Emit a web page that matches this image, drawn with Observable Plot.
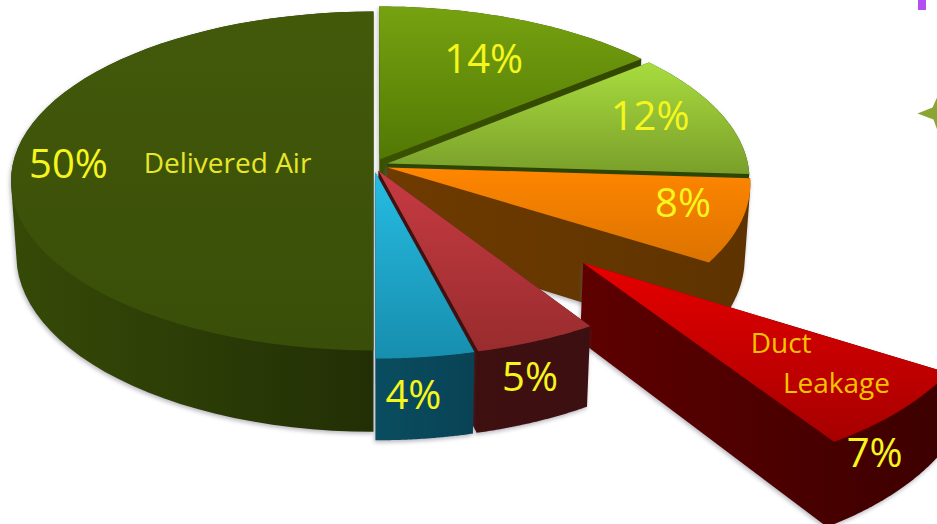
<!DOCTYPE html>
<html>
<head>
<meta charset="utf-8">
<script src="https://cdn.jsdelivr.net/npm/d3@7"></script>
<script src="https://cdn.jsdelivr.net/npm/@observablehq/plot@0.6"></script>
<style>
  html, body { margin: 0; padding: 0; background: #fff; overflow: hidden; }
  .wall { filter: drop-shadow(-1px 2px 2px rgba(90, 90, 110, .45)); }
</style>
</head>
<body>
<div id="chart"></div>
<script>
// Share of supply air per destination, clockwise from twelve o'clock.
const shares = [14, 12, 8, 7, 5, 4, 50];
const sliceIds = ["a", "b", "c", "d", "e", "f", "g"];
const pull = [0.04, 0.04, 0.04, 0.78, 0.034, 0.04, 0];
const reach = [1, 1, 1, 1.04, 1.005, 1, 1];
const topStart = ["#76a210", "#a8dc3e", "#ff8600", "#e60000", "#c63b42", "#26bce2", "#43590a"];
const topEnd = ["#527804", "#7a9f2a", "#dc7300", "#a60000", "#992c2e", "#178eae", "#394e08"];
const wallStart = ["#3a5200", "#2c4604", "#6e3b00", "#5e0000", "#421010", "#0a4d60", "#364a07"];
const wallEnd = ["#324600", "#2c4604", "#5e3300", "#3c0000", "#3c0f10", "#094255", "#222f05"];

// Painting order: the far half first, the pulled-out slice before its neighbours in front.
const paintOrder = [6, 0, 1, 2, 3, 4, 5];

const percentLabels = ["14%", "12%", "8%", "7%", "5%", "4%", "50%"];
const percentPlacement = [
  [0, 26, 0.70, 0], [1, 69.4, 0.8, 0], [2, 105, 0.83, 0],
  [3, 137.5, 0.97, 0.5], [4, 157.5, 1, 0.44], [5, 174.5, 1, 0.47], [6, 270, 0.845, 0]
];
const nameLabels = ["Delivered Air", "Duct", "Leakage"];
const namePlacement = [[6, 271.6, 0.405, 0], [3, 131.2, 0.61, 0], [3, 135.8, 0.82, 0]];
const nameColors = ["#e6e62a", "#f5c400", "#f5c400"];

// Perspective view of the disc: p tilts the far side away from the viewer.
const cx = 373, cy = 165, R = 361, H = 168, p = 0.0915, depth = 74, taper = 0.985;
const rad = (deg) => (deg * Math.PI) / 180;

const ends = d3.cumsum(shares).map((s) => (s * 360) / d3.sum(shares));
const spans = shares.map((_, i) => [i ? ends[i - 1] : 0, ends[i]]);

function project(i, angle, r, drop = 0) {
  const mid = rad((spans[i][0] + spans[i][1]) / 2);
  const u = reach[i] * r * Math.sin(rad(angle)) + pull[i] * Math.sin(mid);
  const v = reach[i] * r * Math.cos(rad(angle)) + pull[i] * Math.cos(mid);
  const w = 1 + p * v;
  const scale = 1 - (1 - taper) * drop;
  return {
    x: cx + (scale * R * u) / w,
    y: cy - (H * v) / w + (drop * depth) / w
  };
}

function arc(i, drop) {
  const [a, b] = spans[i];
  return d3.range(0, 61).map((k) => project(i, a + ((b - a) * k) / 60, 1, drop));
}

const topFace = (i) => [project(i, 0, 0), ...arc(i, 0)];

// Each slice is a convex prism, so its silhouette is the hull of both faces.
function prism(i) {
  const corners = [...topFace(i), project(i, 0, 0, 1), ...arc(i, 1)];
  const hull = d3.polygonHull(corners.map((c) => [c.x, c.y]));
  return hull.map(([x, y]) => ({x, y}));
}

const pointOf = ([i, angle, r, drop]) => project(i, angle, r, drop);
const percentRows = percentLabels.map((text, k) => ({text, ...pointOf(percentPlacement[k])}));
const nameRows = nameLabels.map((text, k) => ({text, color: nameColors[k], ...pointOf(namePlacement[k])}));

function gradients() {
  const defs = d3.create("svg:defs");
  const add = (id, a, b, horizontal) => {
    const g = defs.append("linearGradient").attr("id", id)
      .attr("x1", 0).attr("y1", 0).attr("x2", horizontal ? 1 : 0).attr("y2", horizontal ? 0 : 1);
    g.append("stop").attr("offset", 0).attr("stop-color", a);
    g.append("stop").attr("offset", 1).attr("stop-color", b);
  };
  sliceIds.forEach((id, i) => {
    add(`top-${id}`, topStart[i], topEnd[i], false);
    add(`wall-${id}`, wallStart[i], wallEnd[i], true);
  });
  return defs.node();
}

const faceOpts = {x: "x", y: "y", stroke: "none", curve: "linear"};
const sliceMarks = paintOrder.flatMap((i) => [
  Plot.line(prism(i), {...faceOpts, fill: `url(#wall-${sliceIds[i]})`, className: "wall"}),
  Plot.line(topFace(i), {...faceOpts, fill: `url(#top-${sliceIds[i]})`})
]);

// Slide furniture cut off by the right edge.
const star = [[917, 113], [932, 107], [937, 96], [937, 130], [933, 119], [917, 113]].map(([x, y]) => ({x, y}));

const font = "'Open Sans', 'Noto Sans', sans-serif";
const chart = Plot.plot({
  width: 937,
  height: 524,
  margin: 0,
  style: {background: "#fff"},
  x: {domain: [0, 937], range: [0, 937], axis: null},
  y: {domain: [0, 524], range: [0, 524], axis: null},
  marks: [
    gradients,
    Plot.rect([{}], {x1: () => 918, x2: () => 926, y1: () => 0, y2: () => 10, fill: "#b34ff0"}),
    Plot.line(star, {...faceOpts, fill: "#8aa632"}),
    ...sliceMarks,
    Plot.text(percentRows, {x: "x", y: "y", text: "text", fill: "#f6f61c", fontSize: 40, fontFamily: font, fontWeight: 400}),
    Plot.text(nameRows, {x: "x", y: "y", text: "text", fill: (d) => d.color, fontSize: 28, fontFamily: font})
  ],
  color: {type: "identity"}
});
document.getElementById("chart").append(chart);
</script>
</body>
</html>
